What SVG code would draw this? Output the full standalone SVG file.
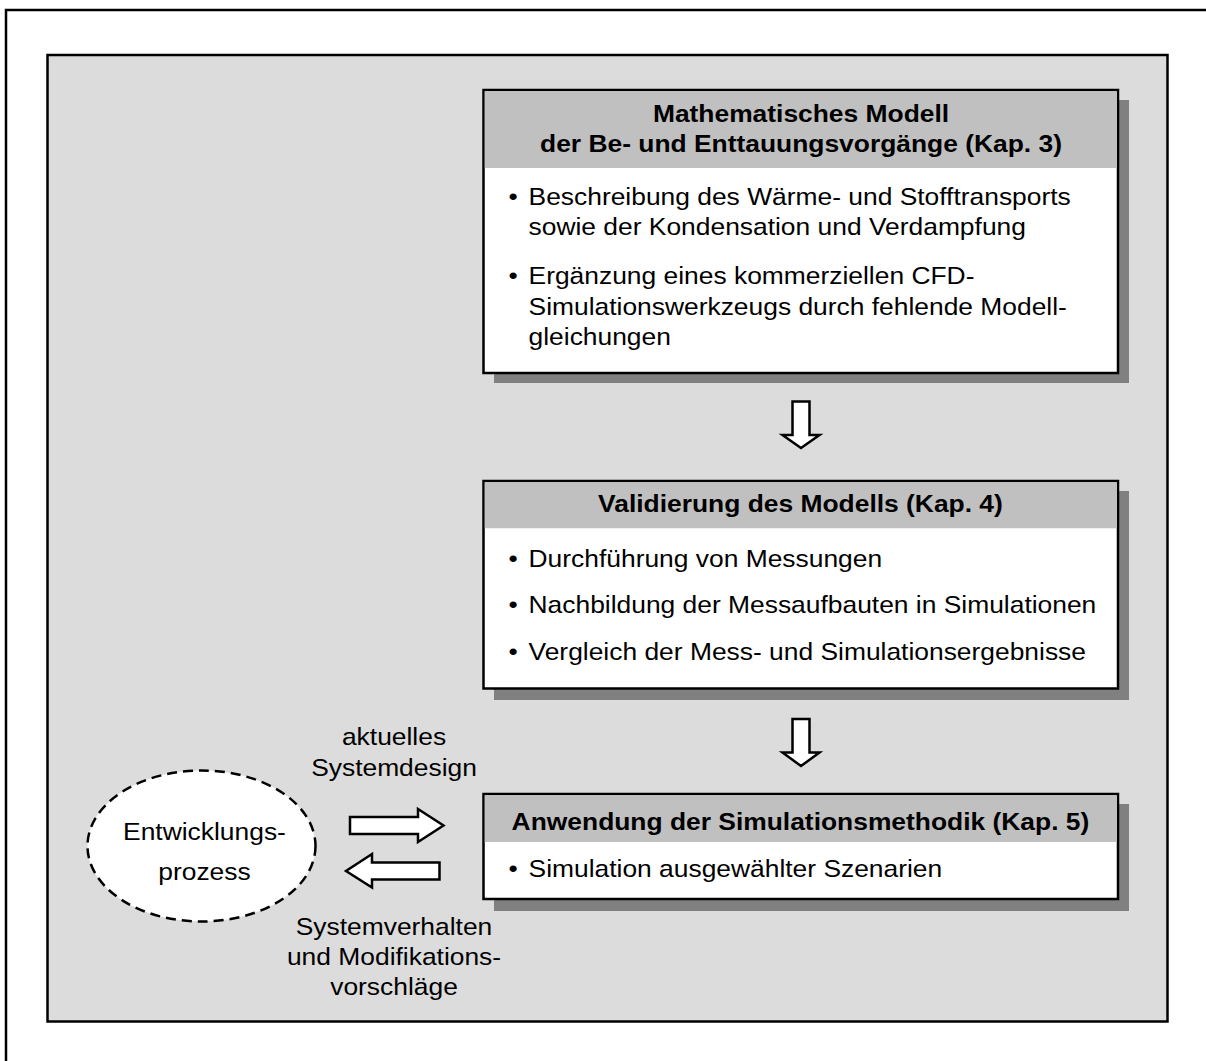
<svg xmlns="http://www.w3.org/2000/svg" width="1206" height="1061" viewBox="0 0 1206 1061">
<style>
text{font-family:"Liberation Sans",Arial,sans-serif;font-size:24px;fill:#000}
.b{font-weight:bold}
.c{text-anchor:middle}
.box{fill:#fff;stroke:#000;stroke-width:2.5}
.hdr{fill:#c0c0c0}
.sh{fill:#808080}
.arr{fill:#fff;stroke:#000;stroke-width:2.5;stroke-linejoin:miter}
</style>
<rect x="6" y="10" width="1230" height="1090" fill="#fff" stroke="#000" stroke-width="2.5"/>
<rect id="frame" x="47.5" y="55" width="1120" height="966.5" fill="#dcdcdc" stroke="#000" stroke-width="2.5"/>

<g id="box1">
<rect class="sh" x="494" y="100" width="635" height="283"/>
<rect class="box" x="483.5" y="90" width="634.5" height="283"/>
<rect class="hdr" x="484.75" y="91.25" width="632" height="76.75"/>
<text class="b c" transform="scale(1.1 1)" x="728.2" y="122">Mathematisches Modell</text>
<text class="b c" transform="scale(1.1 1)" x="728.2" y="152">der Be- und Enttauungsvorgänge (Kap. 3)</text>
<text transform="scale(1.1 1)" y="205"><tspan x="462.2">•</tspan><tspan x="480.5">Beschreibung des Wärme- und Stofftransports</tspan></text>
<text transform="scale(1.1 1)" x="480.5" y="235">sowie der Kondensation und Verdampfung</text>
<text transform="scale(1.1 1)" y="284"><tspan x="462.2">•</tspan><tspan x="480.5">Ergänzung eines kommerziellen CFD-</tspan></text>
<text transform="scale(1.1 1)" x="480.5" y="315">Simulationswerkzeugs durch fehlende Modell-</text>
<text transform="scale(1.1 1)" x="480.5" y="345">gleichungen</text>
</g>

<g id="box2">
<rect class="sh" x="494" y="491" width="635" height="209"/>
<rect class="box" x="483.5" y="481" width="634.5" height="207.5"/>
<rect class="hdr" x="484.75" y="482.25" width="632" height="46"/>
<text class="b c" transform="scale(1.1 1)" x="727.7" y="512">Validierung des Modells (Kap. 4)</text>
<text transform="scale(1.1 1)" y="567"><tspan x="462.2">•</tspan><tspan x="480.5">Durchführung von Messungen</tspan></text>
<text transform="scale(1.1 1)" y="613.5"><tspan x="462.2">•</tspan><tspan x="480.5">Nachbildung der Messaufbauten in Simulationen</tspan></text>
<text transform="scale(1.1 1)" y="660"><tspan x="462.2">•</tspan><tspan x="480.5">Vergleich der Mess- und Simulationsergebnisse</tspan></text>
</g>

<g id="box3">
<rect class="sh" x="494" y="804" width="635" height="107"/>
<rect class="box" x="483.5" y="794" width="634.5" height="105"/>
<rect class="hdr" x="484.75" y="795.25" width="632" height="46.75"/>
<text class="b c" transform="scale(1.1 1)" x="727.7" y="830">Anwendung der Simulationsmethodik (Kap. 5)</text>
<text transform="scale(1.1 1)" y="877"><tspan x="462.2">•</tspan><tspan x="480.5">Simulation ausgewählter Szenarien</tspan></text>
</g>

<g id="process">
<ellipse cx="201.5" cy="846" rx="114" ry="75.5" fill="#fff" stroke="#000" stroke-width="2.5" stroke-dasharray="10 6"/>
<text class="c" transform="scale(1.1 1)" x="185.9" y="840">Entwicklungs-</text>
<text class="c" transform="scale(1.1 1)" x="185.9" y="880">prozess</text>
</g>

<g id="connectors">
<polygon class="arr" points="792.5,401.5 809.5,401.5 809.5,435 819.5,435 801,448 782.5,435 792.5,435"/>
<polygon class="arr" points="792.5,719 809.5,719 809.5,752.5 819.5,752.5 801,766 782.5,752.5 792.5,752.5"/>
<polygon class="arr" points="350,817 418,817 418,809 443.5,825.5 418,842 418,834 350,834"/>
<polygon class="arr" points="439.5,862.5 372,862.5 372,854 346,871 372,887.5 372,879.5 439.5,879.5"/>
<g id="label-design">
<text class="c" transform="scale(1.1 1)" x="358.2" y="745">aktuelles</text>
<text class="c" transform="scale(1.1 1)" x="358.2" y="776">Systemdesign</text>
</g>
<g id="label-feedback">
<text class="c" transform="scale(1.1 1)" x="358.2" y="935">Systemverhalten</text>
<text class="c" transform="scale(1.1 1)" x="358.2" y="965">und Modifikations-</text>
<text class="c" transform="scale(1.1 1)" x="358.2" y="995">vorschläge</text>
</g>
</g>
</svg>
